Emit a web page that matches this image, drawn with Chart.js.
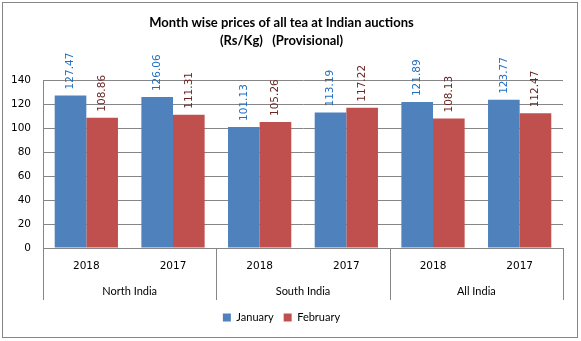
<!DOCTYPE html>
<html>
<head>
<meta charset="utf-8">
<script src="https://cdn.jsdelivr.net/npm/chart.js@4/dist/chart.umd.min.js"></script>
<style>
  html, body { margin: 0; padding: 0; background: #fff; }
  #wrap { width: 581px; height: 341px; }
</style>
</head>
<body>
<div id="wrap"><canvas id="teaChart" width="581" height="341"></canvas></div>
<script>
const years    = ['2018', '2017', '2018', '2017', '2018', '2017'];
const regions  = ['North India', 'South India', 'All India'];
const january  = [127.47, 126.06, 101.13, 113.19, 121.89, 123.77];
const february = [108.86, 111.31, 105.26, 117.22, 108.13, 112.47];
const yTicks   = [0, 20, 40, 60, 80, 100, 120, 140];

const GRID = '#868686';

// rotated value labels above each bar
const valueLabels = {
  id: 'valueLabels',
  afterDatasetsDraw(chart) {
    const ctx = chart.ctx;
    const colors = ['#1f6fc0', '#6b2624'];
    chart.data.datasets.forEach((ds, di) => {
      const meta = chart.getDatasetMeta(di);
      meta.data.forEach((bar, i) => {
        ctx.save();
        ctx.translate(bar.x, bar.y - 6);
        ctx.rotate(-Math.PI / 2);
        ctx.font = '10.5px "DejaVu Sans"';
        ctx.fillStyle = colors[di];
        ctx.textAlign = 'left';
        ctx.textBaseline = 'middle';
        ctx.fillText(ds.data[i].toFixed(2), 0, 0);
        ctx.restore();
      });
    });
  }
};

// region labels, divider lines and outer frame
const groupAxis = {
  id: 'groupAxis',
  afterDraw(chart) {
    const ctx = chart.ctx;
    const x = chart.scales.x;
    const top = x.top;
    const span = (x.right - x.left) / regions.length;

    ctx.save();
    ctx.strokeStyle = GRID;
    ctx.lineWidth = 1;
    for (let k = 0; k <= regions.length; k++) {
      const px = Math.round(x.left + k * span) + 0.5;
      ctx.beginPath();
      ctx.moveTo(px, top);
      ctx.lineTo(px, top + 52);
      ctx.stroke();
    }
    ctx.font = '11px Lato';
    ctx.fillStyle = '#000';
    ctx.textAlign = 'center';
    ctx.textBaseline = 'middle';
    regions.forEach((r, k) => {
      ctx.fillText(r, x.left + (k + 0.5) * span, top + 43);
    });

    ctx.strokeStyle = GRID;
    ctx.strokeRect(2.5, 2.5, 575, 335);
    ctx.restore();
  }
};

new Chart(document.getElementById('teaChart'), {
  type: 'bar',
  data: {
    labels: years,
    datasets: [
      { label: 'January',  data: january,  backgroundColor: '#4f81bd' },
      { label: 'February', data: february, backgroundColor: '#c0504d' }
    ]
  },
  options: {
    responsive: false,
    animation: false,
    layout: { padding: { top: 0, left: 0, right: 18, bottom: 8 } },
    datasets: { bar: { categoryPercentage: 0.73, barPercentage: 1.0 } },
    plugins: {
      title: {
        display: true,
        text: ['Month wise prices of all tea at Indian auctions', '(Rs/Kg)   (Provisional)'],
        color: '#000',
        font: { family: 'Lato', size: 13, weight: 'bold', lineHeight: 1.4 },
        padding: { top: 14, bottom: 30 }
      },
      legend: {
        position: 'bottom',
        labels: {
          boxWidth: 8, boxHeight: 8, padding: 10,
          color: '#000',
          font: { family: 'Lato', size: 11 }
        }
      },
      tooltip: { enabled: false }
    },
    scales: {
      x: {
        grid: { display: false },
        border: { color: GRID },
        ticks: {
          color: '#000', padding: 4,
          font: { family: 'DejaVu Sans', size: 10.5 },
          maxRotation: 0
        },
        afterFit(scale) { scale.height = 54; }
      },
      y: {
        min: 0, max: 140,
        afterBuildTicks(scale) { scale.ticks = yTicks.map(v => ({ value: v })); },
        grid: { color: GRID, drawTicks: false },
        border: { color: GRID },
        ticks: {
          color: '#000', padding: 12,
          font: { family: 'DejaVu Sans', size: 10.5 }
        },
        afterFit(scale) { scale.width = 43; }
      }
    }
  },
  plugins: [valueLabels, groupAxis]
});
</script>
</body>
</html>
